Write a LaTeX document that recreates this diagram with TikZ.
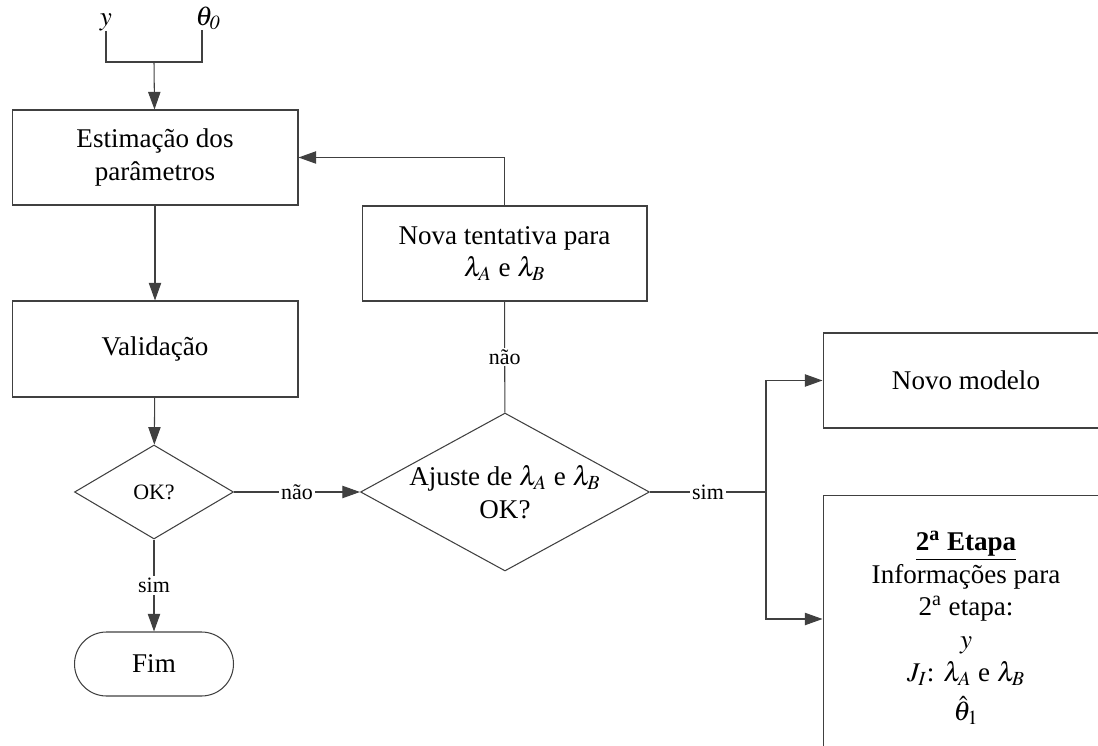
\documentclass[tikz,border=0pt]{standalone}
\usepackage{mathptmx}
\usepackage{fontspec}
\setmainfont{Liberation Serif}
\usetikzlibrary{shapes.geometric,arrows.meta}

\begin{document}
\begin{tikzpicture}[x=0.02cm,y=-0.02cm,
        texto/.style={font=\fontsize{15.4}{18.6}\selectfont},
        caixa/.style={texto, draw=black!75, line width=0.6pt, rectangle, align=center, inner sep=0pt},
        losango/.style={texto, draw=black!75, line width=0.6pt, diamond, aspect=1.83, align=center, inner sep=0pt},
        terminal/.style={texto, draw=black!75, line width=0.6pt, rectangle, rounded corners=0.64cm, inner sep=0pt},
        linha/.style={draw=black!75, line width=0.6pt},
        seta/.style={linha, -{Triangle[length=10pt,width=7pt]}},
        rotulo/.style={fill=white, inner sep=1pt, font=\fontsize{12.5}{15}\selectfont}]
        %MOLDURA
        \useasboundingbox (0,0) rectangle (1098,746);
        \clip (0,0) rectangle (1098,746);

        %ENTRADAS
        \node[texto, anchor=south, inner sep=0pt] (ylab) at (106,31) {$y$};
        \node[texto, anchor=south, inner sep=0pt] (thlab) at (208,30) {$\theta_{\mathit{0}}$};
        \coordinate (junta) at (154,62);

        %BLOCOS
        \node[caixa, minimum width=5.72cm, minimum height=1.9cm] (est) at (155,157.5) {Estimação dos\\parâmetros};
        \node[caixa, minimum width=5.72cm, minimum height=1.92cm] (val) at (155,349) {Validação};
        \node[losango, minimum width=3.18cm, minimum height=1.88cm, font=\fontsize{12.5}{15}\selectfont] (ok) at (154,492) {OK?};
        \node[terminal, minimum width=3.18cm, minimum height=1.28cm] (fim) at (154,664) {Fim};
        \node[losango, minimum width=5.78cm, minimum height=3.16cm] (aj) at (505,492) {Ajuste de $\lambda_A$ e $\lambda_B$\\OK?};
        \node[caixa, minimum width=5.7cm, minimum height=1.9cm] (nova) at (504.5,253.5) {Nova tentativa para\\$\lambda_A$ e $\lambda_B$};
        \node[caixa, minimum width=5.72cm, minimum height=1.9cm] (novo) at (966,380.5) {Novo modelo};
        \node[caixa, minimum width=5.72cm, minimum height=5.32cm] (etapa) at (966,628) {\underline{\textbf{2\textsuperscript{a} Etapa}}\\Informações para\\2\textsuperscript{a} etapa:\\$y$\\$J_I$: $\lambda_A$ e $\lambda_B$\\[4pt]$\hat{\theta}_1$};
        \coordinate (divide) at (766,492);

        %LIGACOES
        \draw[linha] (ylab.south) |- (junta) -| ([xshift=-0.12cm]thlab.south);
        \draw[seta] (junta) -- (est);
        \draw[seta] (est) -- (val);
        \draw[seta] (val) -- (ok);
        \draw[seta] (ok) -- node[rotulo]{sim} (fim);
        \draw[seta] (ok) -- node[rotulo]{não} (aj);
        \draw[linha] (aj) -- node[rotulo]{não} (nova);
        \draw[seta] (nova) |- (est);
        \draw[linha] (aj) -- node[rotulo]{sim} (divide);
        \draw[seta] (divide) |- (novo);
        \draw[seta] (divide) |- ([yshift=0.18cm]etapa.west);
    \end{tikzpicture}
\end{document}
